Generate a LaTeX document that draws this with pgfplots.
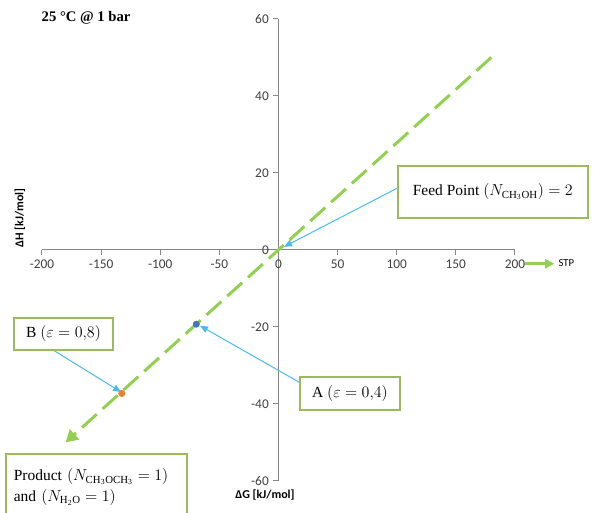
\documentclass[border=0pt]{standalone}
\usepackage{fontspec}
\setmainfont{Liberation Serif}
\newfontfamily\carlito{Carlito}
\usepackage{pgfplots}
\pgfplotsset{compat=1.18}
\usetikzlibrary{arrows.meta}

\definecolor{stpgreen}{RGB}{146,208,80}
\definecolor{boxgreen}{RGB}{155,187,89}
\definecolor{callout}{RGB}{75,185,235}
\definecolor{ptblue}{RGB}{68,114,196}
\definecolor{ptorange}{RGB}{237,125,49}
\definecolor{tickgray}{RGB}{64,64,64}
\definecolor{axgray}{RGB}{134,134,134}

\begin{document}
\begin{tikzpicture}
  \begin{axis}[
      scale only axis,
      width = 354.75pt,
      height = 346.5pt,
      axis lines = middle,
      axis line style = {axgray, line width=0.75pt, -},
      xmin = -200, xmax = 200,
      ymin = -60, ymax = 60,
      xtick = {-200,-150,...,200},
      ytick = {-60,-40,...,60},
      hide obscured x ticks = false,
      hide obscured y ticks = false,
      tick align = outside,
      major tick length = 3.75pt,
      tick style = {axgray, line width=0.75pt},
      ticklabel style = {font=\carlito\fontsize{10}{11}\selectfont, text=tickgray},
      /pgf/number format/assume math mode = true,
      clip = false,
      legend style = {at={(axis cs:207,-3.6)}, anchor=west, draw=none,
          fill=none, font=\carlito\fontsize{8}{9}\selectfont, inner sep=0pt},
    ]
    % STP line
    \addplot[stpgreen, line width=2.25pt, dash pattern=on 15pt off 6pt,
      -{Triangle[length=9pt,width=10pt]},
      legend image code/.code={\draw[stpgreen, line width=2.25pt,
          -{Triangle[length=7pt,width=7pt]}] (0pt,0pt) -- (22pt,0pt);}]
    coordinates {
        (180,50)
        (-180,-50)
      };
    \addlegendentry{STP}

    % callout arrows
    \draw[callout, line width=0.75pt, -{Triangle[length=6pt,width=5pt]}]
    (axis cs:100.9,16.1) -- (axis cs:4.7,0.8);
    \draw[callout, line width=0.75pt, -{Triangle[length=6pt,width=5pt]}]
    (axis cs:18.2,-34.5) -- (axis cs:-66.4,-19.7);
    \draw[callout, line width=0.75pt, -{Triangle[length=6pt,width=5pt]}]
    (axis cs:-190.7,-26.0) -- (axis cs:-133.2,-36.9);

    % points A and B
    \addplot[only marks, mark=*, mark size=2.4pt, color=ptblue]
    coordinates {(-69.5,-19.3)};
    \addplot[only marks, mark=*, mark size=2.4pt, color=ptorange]
    coordinates {(-132.5,-37.3)};

    % boxes
    \node[draw=boxgreen, line width=1.5pt, fill=white, minimum width=142.5pt,
      minimum height=39pt, font=\fontsize{11.6}{13}\selectfont]
    at (axis cs:181.3,15.1) {Feed Point $\left(N_{\mathrm{CH_3OH}}\right) = 2$};
    \node[draw=boxgreen, line width=1.5pt, fill=white, minimum width=74.25pt,
      minimum height=24pt, font=\fontsize{11.6}{13}\selectfont]
    at (axis cs:-181.8,-21.8) {B $(\varepsilon = 0{,}8)$};
    \node[draw=boxgreen, line width=1.5pt, fill=white, minimum width=75pt,
      minimum height=24.75pt, font=\fontsize{11.6}{13}\selectfont]
    at (axis cs:60.5,-37.3) {A $(\varepsilon = 0{,}4)$};
    \node[draw=boxgreen, line width=1.5pt, fill=white, minimum width=134.25pt,
      minimum height=49.5pt, text width=124pt, align=left, inner xsep=6pt,
      font=\fontsize{11.6}{15.5}\selectfont]
    at (axis cs:-153.9,-61.6)
    {Product $\left(N_{\mathrm{CH_3OCH_3}} = 1\right)$\\
      and $\left(N_{\mathrm{H_2O}} = 1\right)$};

    % titles and axis labels
    \node[anchor=west, font=\bfseries\fontsize{11}{13}\selectfont]
    at (axis cs:-204.2,60.3) {25 °C @ 1 bar};
    \node[rotate=90, font=\carlito\bfseries\fontsize{9}{10}\selectfont]
    at (axis cs:-218.6,8.3) {ΔH [kJ/mol]};
    \node[font=\carlito\bfseries\fontsize{9}{10}\selectfont]
    at (axis cs:-11.4,-63.6) {ΔG [kJ/mol]};

    \coordinate (bbsw) at (axis cs:-235.5,-68.3);
    \coordinate (bbne) at (axis cs:277,64.9);
  \end{axis}
  \pgfresetboundingbox
  \path (bbsw) rectangle (bbne);
\end{tikzpicture}
\end{document}
